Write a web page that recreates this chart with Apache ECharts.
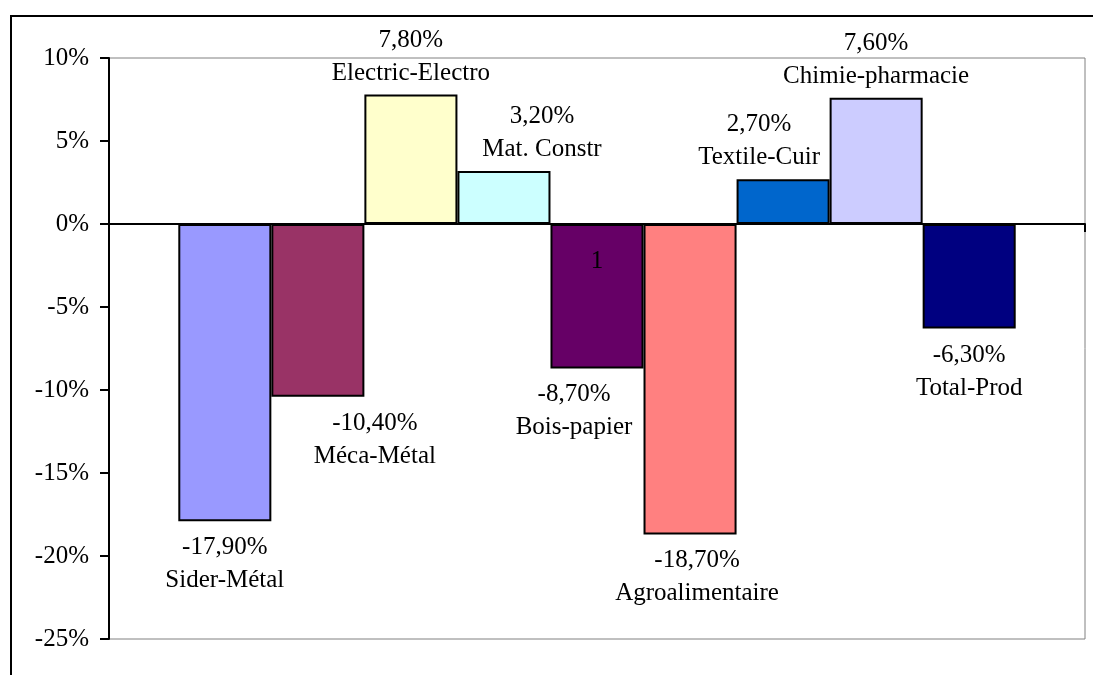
<!DOCTYPE html>
<html>
<head>
<meta charset="utf-8">
<script src="https://cdn.jsdelivr.net/npm/echarts@6/dist/echarts.min.js"></script>
<style>
  html, body { margin: 0; padding: 0; background: #fff; }
  #chart { width: 1093px; height: 675px; }
</style>
</head>
<body>
<div id="chart"></div>
<script>
// data
const categories = ['1'];
const sectors = ['Sider-Métal', 'Méca-Métal', 'Electric-Electro', 'Mat. Constr', 'Bois-papier',
  'Agroalimentaire', 'Textile-Cuir', 'Chimie-pharmacie', 'Total-Prod'];
const variation = [-17.9, -10.4, 7.8, 3.2, -8.7, -18.7, 2.7, 7.6, -6.3];
const yTicks = { min: -25, max: 10, step: 5 };

// excel-ish palette, one per sector
const colors = ['#9999FF', '#993366', '#FFFFCC', '#CCFFFF', '#660066', '#FF8080', '#0066CC', '#CCCCFF', '#000080'];
// horizontal nudges of the data labels, like Excel placed them
const labelShift = [0, 57, 0, 38, -23, 7, -24, 0, 0];

const font = 'Liberation Serif';
const chart = echarts.init(document.getElementById('chart'));

const series = sectors.map((name, i) => ({
  name: name,
  type: 'bar',
  barGap: 0,
  barCategoryGap: '14.2%',
  data: [variation[i]],
  itemStyle: { color: colors[i], borderColor: '#000', borderWidth: 2 },
  label: {
    show: true,
    position: variation[i] >= 0 ? 'top' : 'bottom',
    distance: variation[i] >= 0 ? 5 : 10,
    offset: [labelShift[i], 0],
    fontFamily: font,
    fontSize: 25,
    lineHeight: 33,
    color: '#000',
    formatter: p => p.value.toFixed(2).replace('.', ',') + '%\n' + p.seriesName
  }
}));

const option = {
  animation: false,
  grid: {
    left: 109, top: 58, right: 8, bottom: 36,
    outerBoundsMode: 'none',
    show: true, borderColor: '#808080', borderWidth: 1, backgroundColor: 'transparent'
  },
  graphic: [{
    type: 'rect',
    shape: { x: 11, y: 16, width: 1200, height: 800 },
    style: { fill: 'none', stroke: '#000', lineWidth: 2 },
    silent: true
  }],
  xAxis: {
    type: 'category',
    data: categories,
    axisLine: { onZero: false, lineStyle: { color: '#000', width: 2 } },
    axisTick: { show: true, length: 8, lineStyle: { color: '#000', width: 2 } },
    axisLabel: { margin: 25, fontFamily: font, fontSize: 25, color: '#000' },
    splitLine: { show: false },
    offset: 0,
    z: 5
  },
  yAxis: {
    type: 'value',
    min: yTicks.min,
    max: yTicks.max,
    interval: yTicks.step,
    axisLine: { show: true, lineStyle: { color: '#000', width: 2 } },
    axisTick: { show: true, length: 9, lineStyle: { color: '#000', width: 2 } },
    axisLabel: { margin: 20, fontFamily: font, fontSize: 25, color: '#000', formatter: '{value}%' },
    splitLine: { show: false }
  },
  series: series
};
chart.setOption(option);

// move the category axis (line, ticks and the "1" label) up to the 0% line
const zeroY = chart.convertToPixel({ yAxisIndex: 0 }, 0);
const bottomY = chart.convertToPixel({ yAxisIndex: 0 }, yTicks.min);
chart.setOption({ xAxis: { offset: zeroY - bottomY } });
</script>
</body>
</html>
